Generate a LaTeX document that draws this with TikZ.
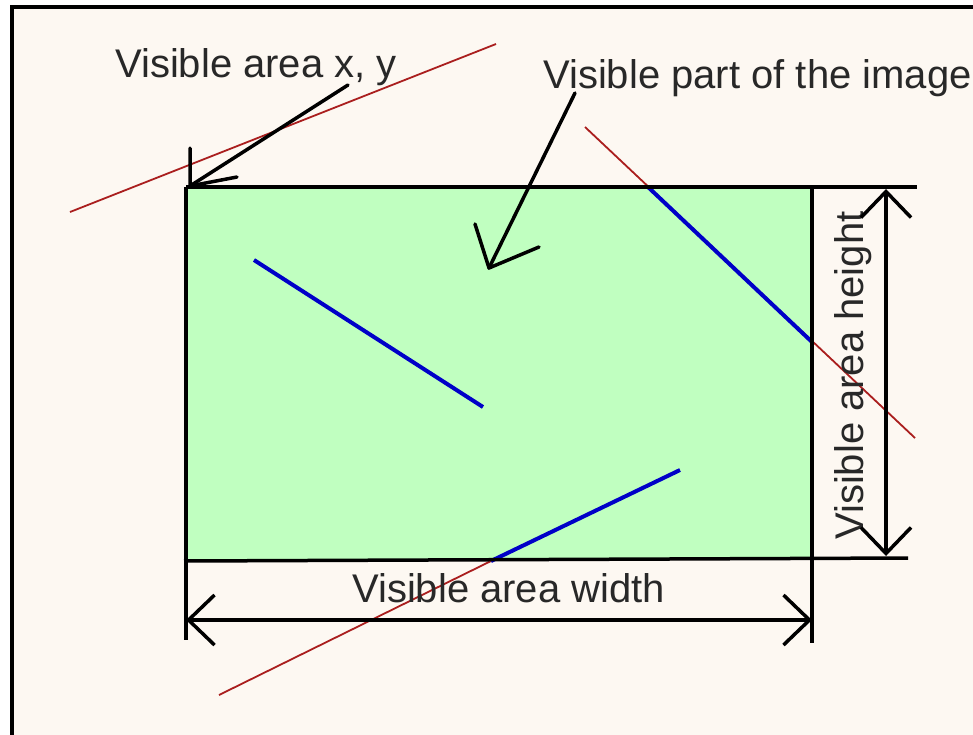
\documentclass[tikz,border=0pt]{standalone}
\usepackage{fontspec}
\setmainfont{Liberation Sans}
\usetikzlibrary{arrows.meta}
\definecolor{paper}{RGB}{253,248,242}
\definecolor{viewgreen}{RGB}{192,255,192}
\definecolor{cutred}{RGB}{170,30,30}
\definecolor{seenblue}{RGB}{0,0,200}
\definecolor{inktext}{RGB}{40,40,40}
\tikzset{
  dimtext/.style={font=\fontsize{40}{48}\selectfont, text=inktext, inner sep=0pt},
  edgeline/.style={line width=3.5pt, draw=black},
  pointer/.style={line width=3.5pt, draw=black, line cap=round, line join=round},
  dimarrow/.style={line width=3.5pt, {Straight Barb[length=26pt,width=50pt]}-{Straight Barb[length=26pt,width=50pt]}},
  cutline/.style={line width=1.8pt, draw=cutred},
  seenline/.style={line width=4pt, draw=seenblue},
}

\begin{document}
\begin{tikzpicture}[x=1pt, y=-1pt]
  \useasboundingbox (0,0) rectangle (973,734);
  \fill[white] (0,0) rectangle (973,734);
  % canvas frame, cut off right and bottom
  \draw[line width=3.5pt, fill=paper] (12,7) rectangle (995,760);

  % visible area corners
  \coordinate (va) at (186,187);
  \coordinate (vb) at (812,560);
  \fill[viewgreen] (va) rectangle (vb);

  % lines of the image, clipped parts in red
  \coordinate (r1a) at (70,212);
  \coordinate (r1b) at (496,44);
  \coordinate (r2a) at (585,127);
  \coordinate (r2b) at (915,438);
  \coordinate (r3a) at (219,695);
  \coordinate (r3b) at (491,561);
  \draw[cutline] (r1a) -- (r1b);
  \draw[cutline] (r2a) -- (r2b);
  \draw[cutline] (r3a) -- (r3b);

  % visible parts in blue
  \coordinate (b1a) at (254,260);
  \coordinate (b1b) at (483,407);
  \coordinate (b2a) at (648,187);
  \coordinate (b2b) at (812,342);
  \coordinate (b3b) at (680,470);
  \draw[seenline] (b1a) -- (b1b);
  \draw[seenline] (b2a) -- (b2b);
  \draw[seenline] (r3b) -- (b3b);

  % edges and extension lines
  \coordinate (topext) at (917,187);
  \coordinate (botext) at (908,558);
  \coordinate (leftext) at (186,640);
  \coordinate (rightext) at (812,643);
  \draw[edgeline] (va) -- (topext);
  \draw[edgeline] (184,561) -- (botext);
  \draw[edgeline] (va) -- (leftext);
  \draw[edgeline] (vb |- va) -- (rightext);

  % labels
  \node[dimtext, anchor=base west] (xylabel) at (115,77) {Visible area x, y};
  \node[dimtext, anchor=base west] (partlabel) at (543,88) {Visible part of the image};
  \node[dimtext, anchor=base west] (widthlabel) at (352,602) {Visible area width};
  \node[dimtext, anchor=base west, rotate=90] (heightlabel) at (863,540) {Visible area height};

  % dimension arrows
  \coordinate (wl) at (186,620);
  \coordinate (wr) at (812,620);
  \coordinate (ht) at (886,189);
  \coordinate (hb) at (886,556);
  \draw[dimarrow] (wl) -- (wr);
  \draw[dimarrow] (ht) -- (hb);

  % pointers
  \coordinate (xytail) at (348,85);
  \coordinate (xytip) at (190,186);
  \draw[pointer] (xytail) -- (xytip);
  \draw[pointer] (190,148) -- (xytip) -- (237,177);
  \coordinate (parttail) at (575,93);
  \coordinate (parttip) at (489,268);
  \draw[pointer] (parttail) -- (parttip);
  \draw[pointer] (475,224) -- (parttip) -- (539,247);
\end{tikzpicture}
\end{document}
